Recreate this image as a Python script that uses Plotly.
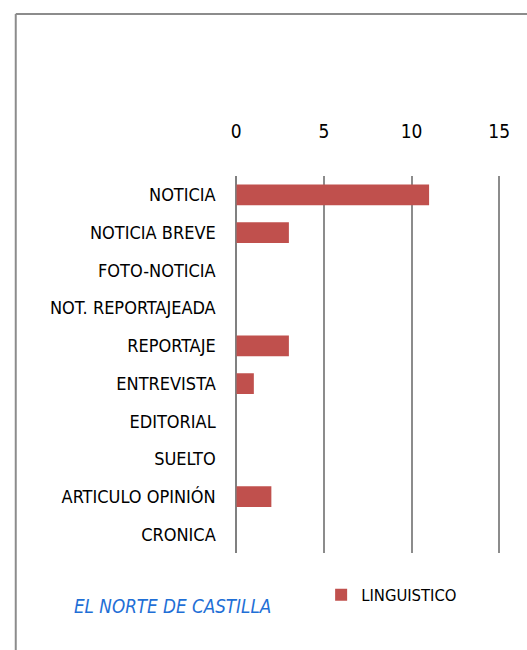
import plotly.graph_objects as go

categories = ["NOTICIA", "NOTICIA BREVE", "FOTO-NOTICIA", "NOT. REPORTAJEADA",
              "REPORTAJE", "ENTREVISTA", "EDITORIAL", "SUELTO",
              "ARTICULO OPINIÓN", "CRONICA"]
linguistico = [11, 3, 0, 0, 3, 1, 0, 0, 2, 0]
x_ticks = [0, 5, 10, 15]
series_name = "LINGUISTICO"
title_text = "EL NORTE DE CASTILLA"

W, H = 527, 650
FONT = "DejaVu Sans Condensed, DejaVu Sans, sans-serif"

fig = go.Figure()
fig.add_trace(go.Bar(
    y=categories, x=linguistico, orientation="h", name=series_name,
    marker=dict(color="#C0504D", line=dict(width=0)), width=0.55,
))

fig.update_layout(
    width=W, height=H,
    margin=dict(l=0, r=0, t=0, b=0),
    paper_bgcolor="white", plot_bgcolor="white",
    font=dict(family=FONT, size=18, color="#000000"),
    showlegend=True,
    legend=dict(orientation="h", x=323.5 / W, y=1 - 595 / H, xanchor="left", yanchor="middle",
                font=dict(family=FONT, size=16.5, color="#000000"),
                bgcolor="rgba(0,0,0,0)", itemwidth=30),
    xaxis=dict(
        side="top", range=[0, 15.2], tickvals=x_ticks, ticktext=[str(v) for v in x_ticks],
        domain=[236.7 / W, 509.3 / W], showgrid=True, gridcolor="#8C8C8C", gridwidth=1.8,
        zeroline=True, zerolinecolor="#808080", zerolinewidth=1.8, showline=False,
        ticks="outside", ticklen=29, tickcolor="rgba(0,0,0,0)",
        tickfont=dict(family=FONT, size=19, color="#000000"), fixedrange=True,
    ),
    yaxis=dict(
        domain=[1 - 553.3 / H, 1 - 176 / H], autorange="reversed", type="category",
        showgrid=False, zeroline=False, showline=False,
        ticks="outside", ticklen=16, tickcolor="rgba(0,0,0,0)",
        tickfont=dict(family=FONT, size=18, color="#000000"), fixedrange=True,
    ),
    bargap=0.45,
)

fig.add_annotation(
    text=title_text, xref="paper", yref="paper", x=69 / W, y=1 - 606 / H,
    xanchor="left", yanchor="middle", showarrow=False,
    font=dict(family=FONT, size=18.7, color="#1F6FD6", style="italic"),
)

# outer frame (left and top edges visible)
fig.add_shape(type="line", xref="paper", yref="paper", x0=11 / W, x1=11 / W,
              y0=-0.05, y1=1 - 14 / H, line=dict(color="#8C8C8C", width=2))
fig.add_shape(type="line", xref="paper", yref="paper", x0=11 / W, x1=1.05,
              y0=1 - 14 / H, y1=1 - 14 / H, line=dict(color="#8C8C8C", width=2))

fig.write_html("out.html", config={"displayModeBar": False})

# remove default page margin so the figure fills the window exactly
with open("out.html", "r", encoding="utf-8") as f:
    html = f.read()
html = html.replace("<body>", '<body style="margin:0;padding:0;overflow:hidden">', 1)
with open("out.html", "w", encoding="utf-8") as f:
    f.write(html)
